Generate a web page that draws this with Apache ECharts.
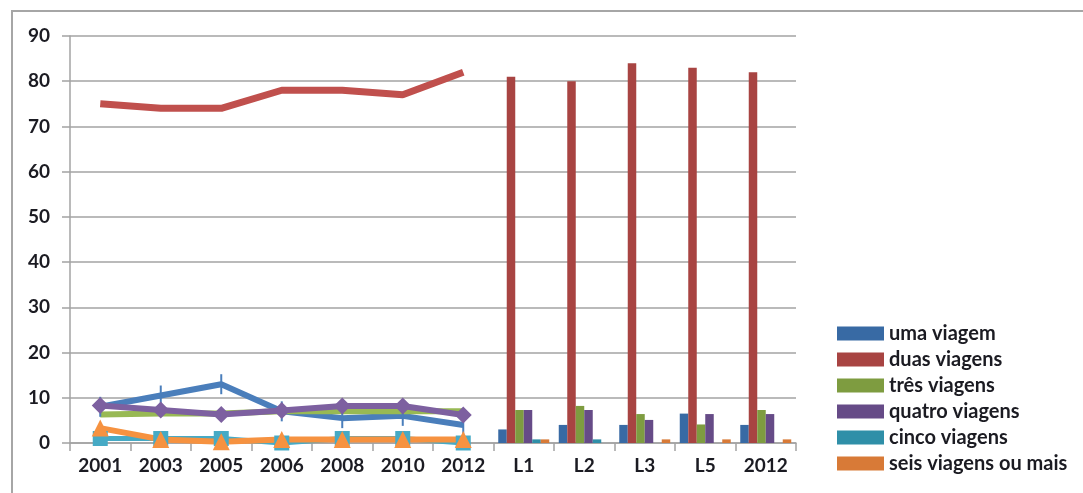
<!DOCTYPE html>
<html>
<head>
<meta charset="utf-8">
<script src="https://cdn.jsdelivr.net/npm/echarts@6/dist/echarts.min.js"></script>
<style>
  html, body { margin: 0; padding: 0; background: #ffffff; }
  #chart { width: 1083px; height: 493px; }
</style>
</head>
<body>
<div id="chart"></div>
<script>
// Categories: survey years (lines) followed by groups L1..L5 and 2012 (bars)
const categories = ['2001', '2003', '2005', '2006', '2008', '2010', '2012', 'L1', 'L2', 'L3', 'L5', '2012'];
const yTicks = [0, 10, 20, 30, 40, 50, 60, 70, 80, 90];

// Yearly series (percent), one value per year
const umaYears    = [8, 10.5, 13, 7, 5.5, 6, 4];
const duasYears   = [75, 74, 74, 78, 78, 77, 82];
const tresYears   = [6.3, 6.5, 6.5, 7, 7, 7, 7];
const quatroYears = [8.3, 7.3, 6.3, 7.2, 8.2, 8.2, 6.2];
const cincoYears  = [1, 1, 1, 0, 1, 1, 0];
const seisYears   = [3.3, 0.8, 0.3, 0.8, 0.8, 0.8, 0.8];

// Grouped series (percent), one value per group L1, L2, L3, L5, 2012
const umaGroups    = [3, 4, 4, 6.5, 4];
const duasGroups   = [81, 80, 84, 83, 82];
const tresGroups   = [7.3, 8.2, 6.4, 4.1, 7.3];
const quatroGroups = [7.3, 7.3, 5.1, 6.4, 6.4];
const cincoGroups  = [0.8, 0.8, 0, 0, 0];
const seisGroups   = [0.8, 0, 0.8, 0.8, 0.8];

const seriesNames = ['uma viagem', 'duas viagens', 'três viagens', 'quatro viagens', 'cinco viagens', 'seis viagens ou mais'];

const nYears = umaYears.length;
const nGroups = umaGroups.length;
const pad = (n) => new Array(n).fill(null);

const lineData = [umaYears, duasYears, tresYears, quatroYears, cincoYears, seisYears];
const barData = [umaGroups, duasGroups, tresGroups, quatroGroups, cincoGroups, seisGroups];

const lineColors = ['#4a7ebb', '#c0504d', '#98b954', '#7d60a0', '#46aac5', '#f69240'];
const barColors  = ['#386aa4', '#a84442', '#7e9c40', '#664b87', '#2f8fa8', '#d87a37'];

const markers = [
  { symbol: 'path://M0,0 L2,0 L2,20 L0,20 Z', symbolSize: [2, 20] },
  { symbol: 'none', symbolSize: 0 },
  { symbol: 'none', symbolSize: 0 },
  { symbol: 'diamond', symbolSize: 17 },
  { symbol: 'rect', symbolSize: 15 },
  { symbol: 'triangle', symbolSize: 17 }
];
const lineWidths = [6, 7, 6, 6, 5, 6];

const series = [];
seriesNames.forEach((name, i) => {
  series.push({
    name: name,
    type: 'line',
    data: lineData[i].concat(pad(nGroups)),
    symbol: markers[i].symbol,
    symbolSize: markers[i].symbolSize,
    showSymbol: markers[i].symbol !== 'none',
    lineStyle: { color: lineColors[i], width: lineWidths[i] },
    itemStyle: { color: lineColors[i] },
    z: 3,
    animation: false
  });
});
seriesNames.forEach((name, i) => {
  series.push({
    name: name,
    type: 'bar',
    data: pad(nYears).concat(barData[i]),
    barWidth: 8.5,
    barGap: '0%',
    itemStyle: { color: barColors[i] },
    animation: false
  });
});

const textColor = '#1b1b22';
const axisGray = '#a3a3a3';
const fontFamily = 'Lato, "Open Sans", sans-serif';

const chart = echarts.init(document.getElementById('chart'), null, { renderer: 'canvas' });
chart.setOption({
  backgroundColor: '#ffffff',
  animation: false,
  graphic: [{
    type: 'rect',
    shape: { x: 12, y: 11, width: 1100, height: 520 },
    style: { fill: 'none', stroke: '#a6a6a6', lineWidth: 2 },
    silent: true,
    z: -1
  }],
  grid: { left: 70, right: 287, top: 36, bottom: 50, containLabel: false },
  legend: {
    orient: 'vertical',
    left: 832,
    top: 317,
    icon: 'rect',
    itemWidth: 47,
    itemHeight: 14,
    itemGap: 3,
    data: seriesNames.map((n, i) => ({ name: n, itemStyle: { color: barColors[i] } })),
    textStyle: { color: textColor, fontSize: 20, fontWeight: 'bold', fontFamily: fontFamily, lineHeight: 23 }
  },
  xAxis: {
    type: 'category',
    data: categories,
    boundaryGap: true,
    axisLine: { show: true, lineStyle: { color: axisGray, width: 1.5 } },
    axisTick: { show: true, alignWithLabel: false, length: 8, lineStyle: { color: axisGray, width: 1.5 } },
    axisLabel: { color: textColor, fontSize: 19, fontWeight: 'bold', fontFamily: fontFamily, margin: 13, interval: 0 },
    splitLine: { show: false }
  },
  yAxis: {
    type: 'value',
    min: yTicks[0],
    max: yTicks[yTicks.length - 1],
    interval: 10,
    axisLine: { show: true, lineStyle: { color: axisGray, width: 1.5 } },
    axisTick: { show: true, length: 8, lineStyle: { color: axisGray, width: 1.5 } },
    axisLabel: { color: textColor, fontSize: 19, fontWeight: 'bold', fontFamily: fontFamily, margin: 20 },
    splitLine: { show: true, lineStyle: { color: axisGray, width: 1.5 } }
  },
  series: series
});
</script>
</body>
</html>
